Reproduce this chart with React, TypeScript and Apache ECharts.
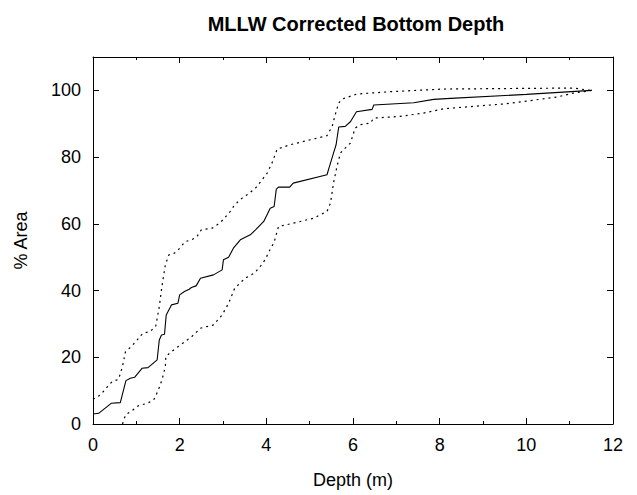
import React, { useEffect, useRef } from "react";
import * as echarts from "echarts";

const titleText = "MLLW Corrected Bottom Depth";
const xName = "Depth (m)";
const yName = "% Area";

const meanDepth = [0, 0.13, 0.42, 0.63, 0.76, 0.86, 0.96, 1.13, 1.27, 1.48, 1.53, 1.58, 1.65, 1.69, 1.81, 1.96, 2.0, 2.11, 2.22, 2.27, 2.38, 2.48, 2.78, 2.98, 3.01, 3.13, 3.24, 3.4, 3.63, 3.75, 3.94, 4.09, 4.18, 4.23, 4.28, 4.54, 4.62, 5.4, 5.48, 5.55, 5.61, 5.67, 5.82, 5.94, 6.08, 6.44, 6.48, 7.4, 7.86, 8.25, 10.0, 11.51];
const meanArea = [3.0, 3.2, 6.2, 6.4, 13.0, 13.7, 14.0, 16.7, 16.9, 19.2, 25.2, 26.7, 26.9, 32.7, 35.7, 36.2, 38.7, 39.7, 40.4, 40.9, 41.4, 43.7, 44.7, 46.2, 49.2, 50.0, 52.7, 55.2, 56.7, 58.2, 60.7, 64.7, 65.2, 70.4, 71.0, 71.0, 72.2, 74.7, 78.2, 81.2, 83.7, 89.0, 89.2, 90.6, 93.6, 94.3, 95.6, 96.3, 97.3, 97.6, 98.8, 100];

const upperDepth = [0, 0.17, 0.32, 0.44, 0.59, 0.68, 0.75, 0.9, 1.02, 1.15, 1.32, 1.45, 1.53, 1.59, 1.67, 1.75, 1.88, 1.98, 2.13, 2.28, 2.4, 2.5, 2.75, 2.94, 3.15, 3.27, 3.44, 3.59, 3.75, 3.86, 4.02, 4.13, 4.25, 4.55, 4.86, 5.4, 5.52, 5.59, 5.67, 5.75, 6.09, 6.86, 8.1, 11.09, 11.52];
const upperArea = [7.4, 8.7, 11.0, 12.7, 13.4, 17.2, 21.7, 23.4, 25.2, 27.2, 27.7, 29.4, 35.2, 41.2, 47.7, 50.7, 51.2, 52.4, 54.7, 55.2, 56.2, 58.2, 58.7, 60.4, 63.4, 65.7, 67.7, 69.0, 70.7, 72.5, 75.2, 78.2, 82.4, 83.7, 84.7, 86.4, 89.2, 92.7, 96.2, 97.4, 98.9, 99.6, 100.4, 100.7, 99.9];

const lowerDepth = [0.68, 0.75, 0.9, 1.05, 1.25, 1.4, 1.51, 1.59, 1.67, 1.68, 1.81, 2.05, 2.28, 2.48, 2.78, 2.98, 3.13, 3.27, 3.51, 3.72, 3.86, 3.98, 4.05, 4.18, 4.28, 4.63, 5.09, 5.4, 5.48, 5.55, 5.63, 5.71, 5.78, 5.94, 6.05, 6.17, 6.4, 6.48, 7.09, 7.63, 8.1, 9.55, 10.71, 11.09, 11.52];
const lowerArea = [0, 2.7, 4.0, 5.5, 6.2, 7.2, 10.2, 13.2, 17.2, 20.2, 21.7, 24.0, 26.2, 28.7, 29.7, 32.7, 36.2, 40.7, 43.7, 45.2, 47.2, 49.4, 51.4, 54.5, 59.2, 60.2, 61.7, 63.7, 66.2, 72.2, 77.2, 81.2, 82.2, 84.2, 88.7, 89.7, 90.2, 91.7, 92.2, 93.2, 94.5, 96.0, 98.0, 99.2, 100];

const xTicks = { min: 0, max: 12, interval: 2 };
const yTicks = { min: 0, max: 110, interval: 20 };

const pairs = (xs: number[], ys: number[]) => xs.map((x, i) => [x, ys[i]]);

const FONT = "Liberation Sans, Arial, Helvetica, sans-serif";

export default function App() {
  const ref = useRef<HTMLDivElement>(null);
  useEffect(() => {
    if (!ref.current) return;
    const chart = echarts.init(ref.current, undefined, { renderer: "svg" });
    const lineCol = "#000";
    const baseAxis = {
      axisLine: { show: true, onZero: false, lineStyle: { color: lineCol, width: 1 } },
      splitLine: { show: false },
    };
    chart.setOption({
      animation: false,
      backgroundColor: "#fff",
      title: {
        text: titleText,
        left: 351,
        top: 9,
        textAlign: "center",
        textStyle: { fontFamily: FONT, fontSize: 20, fontWeight: "bold", color: "#000" },
      },
      grid: { left: 93, right: 24, top: 57, bottom: 71, containLabel: false },
      xAxis: [
        {
          ...baseAxis,
          type: "value",
          position: "bottom",
          min: xTicks.min,
          max: xTicks.max,
          interval: xTicks.interval,
          name: xName,
          nameLocation: "middle",
          nameGap: 47,
          nameTextStyle: { fontFamily: FONT, fontSize: 18, color: "#000" },
          axisTick: { show: true, inside: true, length: 6, lineStyle: { color: lineCol } },
          minorTick: { show: true, splitNumber: 2, length: 3, lineStyle: { color: lineCol } },
          axisLabel: { show: true, margin: 12, fontFamily: FONT, fontSize: 18, color: "#000" },
        },
        {
          ...baseAxis,
          type: "value",
          position: "top",
          min: xTicks.min,
          max: xTicks.max,
          interval: xTicks.interval,
          axisTick: { show: true, inside: true, length: 6, lineStyle: { color: lineCol } },
          minorTick: { show: true, splitNumber: 2, length: 3, lineStyle: { color: lineCol } },
          axisLabel: { show: false },
        },
      ],
      yAxis: [
        {
          ...baseAxis,
          type: "value",
          position: "left",
          min: yTicks.min,
          max: yTicks.max,
          interval: yTicks.interval,
          name: yName,
          nameLocation: "middle",
          nameGap: 63,
          nameRotate: 90,
          nameTextStyle: { fontFamily: FONT, fontSize: 18, color: "#000" },
          axisTick: { show: true, inside: true, length: 6, lineStyle: { color: lineCol } },
          axisLabel: { show: true, margin: 12, showMaxLabel: false, fontFamily: FONT, fontSize: 18, color: "#000" },
        },
        {
          ...baseAxis,
          type: "value",
          position: "right",
          min: yTicks.min,
          max: yTicks.max,
          interval: yTicks.interval,
          axisTick: { show: true, inside: true, length: 6, lineStyle: { color: lineCol } },
          axisLabel: { show: false },
        },
      ],
      series: [
        {
          type: "line",
          name: "upper",
          data: pairs(upperDepth, upperArea),
          showSymbol: false,
          symbol: "none",
          lineStyle: { color: "#000", width: 1.2, type: [2, 4] },
          silent: true,
        },
        {
          type: "line",
          name: "lower",
          data: pairs(lowerDepth, lowerArea),
          showSymbol: false,
          symbol: "none",
          lineStyle: { color: "#000", width: 1.2, type: [2, 4] },
          silent: true,
        },
        {
          type: "line",
          name: "mean",
          data: pairs(meanDepth, meanArea),
          showSymbol: false,
          symbol: "none",
          lineStyle: { color: "#000", width: 1.1 },
          silent: true,
        },
      ],
    });
    return () => chart.dispose();
  }, []);
  return <div ref={ref} style={{ width: 637, height: 495, position: "absolute", left: 0, top: 0 }} />;
}
